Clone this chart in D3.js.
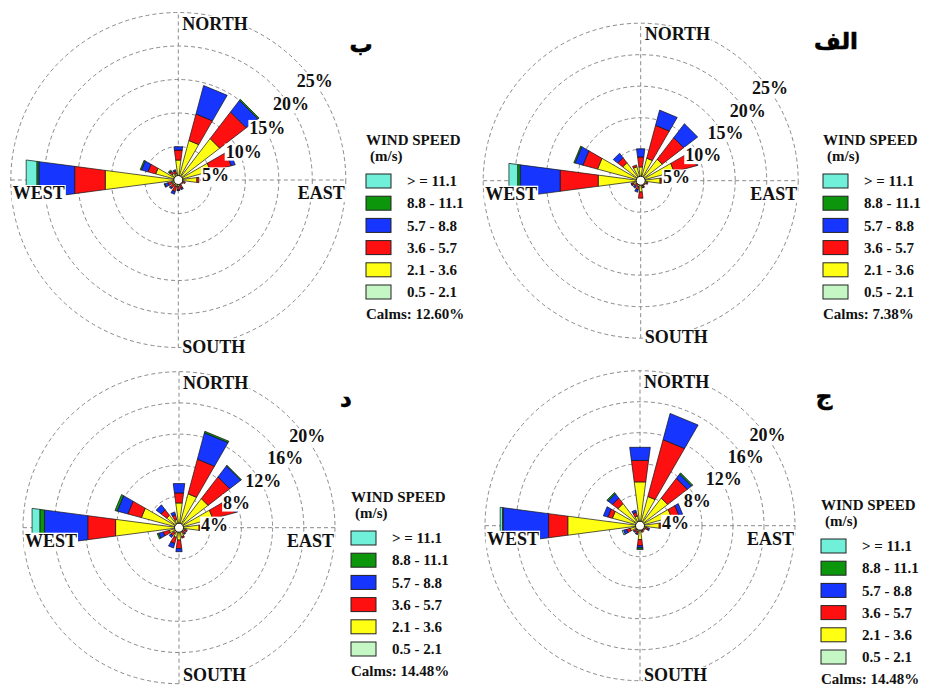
<!DOCTYPE html>
<html><head><meta charset="utf-8">
<script src="https://cdn.jsdelivr.net/npm/d3@7"></script>
<style>body{margin:0;background:#fff} svg{display:block}</style>
</head><body>
<svg id="chart" width="925" height="688"></svg>
<script>
// ---------- DATA ----------
const directions = ["N","NNE","NE","ENE","E","ESE","SE","SSE","S","SSW","SW","WSW","W","WNW","NW","NNW"];
const speedClasses = ["0.5 - 2.1","2.1 - 3.6","3.6 - 5.7","5.7 - 8.8","8.8 - 11.1","> = 11.1"];
const ticksTop = [5, 10, 15, 20, 25];
const ticksBottom = [4, 8, 12, 16, 20];
const compassLabels = ["NORTH","EAST","SOUTH","WEST"];
const panelLetters = ["الف","ب","ج","د"];
const calmsValues = ["7.38", "12.60", "14.48", "14.48"];

// frequency (%) per direction (rows N..NNW) and speed class (cols 0.5-2.1 ... >=11.1)
const freqAlef = [
  [0.3,1.9,1.6,1.3,0,0],[0.3,3.4,5.4,2.5,0,0],[0.3,4.0,4.3,2.8,0,0],[0.3,5.2,3.7,0.2,0,0],
  [0.3,2.8,0.2,0,0,0],[0.2,0.8,0.2,0,0,0],[0.2,0.5,0.2,0,0,0],[0.2,0.6,0.3,0.1,0,0],
  [0.3,1.5,1.0,0,0,0],[0.2,0.8,0.5,0.4,0,0],[0.2,0.6,0.4,0.3,0,0],[0.2,1.0,0.3,0.1,0,0],
  [0.3,6.5,6.1,6.4,0.4,1.4],[0.3,6.8,2.4,1.3,0.2,0],[0.3,3.3,1.0,0.9,0,0],[0.3,2.0,0.3,0,0,0]
];
const freqBe = [
  [0.3,2.7,1.5,0.5,0,0],[0.3,5.8,4.1,4.4,0,0],[0.3,7.5,5.0,2.2,0.2,0],[0.3,4.7,3.2,0.6,0,0],
  [0.3,2.5,0.3,0,0,0],[0.2,0.5,0.4,0,0,0],[0.2,0.4,0.2,0,0,0],[0.2,0.6,0.5,0.2,0,0],
  [0.2,0.8,0.5,0.1,0,0],[0.2,0.8,0.8,0.4,0,0],[0.2,0.7,0.6,0.2,0,0],[0.2,0.8,0.6,0.5,0.1,0],
  [0.3,10.7,4.6,5.4,0.3,1.6],[0.3,3.2,1.2,1.0,0.2,0],[0.2,1.0,0.4,0.1,0.2,0],[0.2,0.8,0.4,0.2,0,0]
];
const freqJim = [
  [0.3,5.4,2.8,1.7,0,0],[0.3,3.6,7.6,3.5,0,0],[0.3,4.2,3.2,0.7,0.2,0],[0.3,3.9,1.0,0.5,0,0],
  [0.3,2.2,0.2,0,0,0],[0.2,0.6,0.3,0.2,0,0],[0.2,0.4,0.2,0,0,0],[0.2,0.5,0.2,0,0,0],
  [0.3,1.5,0.8,0.3,0.2,0],[0.2,0.6,0.3,0.1,0,0],[0.2,0.5,0.3,0.1,0,0],[0.3,1.0,0.5,0.4,0,0.2],
  [0.3,9.1,2.5,5.9,0.1,0.3],[0.3,3.4,0.6,0.6,0,0],[0.3,3.3,0.9,0.7,0.2,0],[0.3,1.0,0.5,0.3,0,0]
];
const freqDal = [
  [0.3,2.9,1.3,1.2,0,0],[0.3,4.2,4.6,3.5,0.2,0],[0.3,4.4,3.5,1.8,0.1,0],[0.3,4.2,2.9,0.4,0,0],
  [0.3,2.3,0.2,0,0,0],[0.2,0.6,0.3,0,0,0],[0.2,0.5,0.3,0.1,0,0],[0.2,1.0,0.2,0,0,0],
  [0.3,1.3,1.1,0.4,0,0],[0.3,1.0,0.8,0.6,0,0],[0.2,0.6,0.5,0.3,0,0],[0.3,1.0,0.8,0.6,0.2,0],
  [0.3,7.9,3.6,5.6,0.6,1.0],[0.3,4.7,1.8,1.4,0.3,0],[0.3,1.7,0.9,0.8,0,0],[0.3,0.8,0.6,0.4,0,0]
];

// ---------- STYLE / LAYOUT ----------
const classColors = ["#c4f7c4","#ffff14","#ff1010","#1636ff","#0c960c","#70f0d8"];
const serif = "'Liberation Serif','Times New Roman',serif";

const panels = [
  {freq: freqAlef, ticks: ticksTop,    letter: 0, calm: 0, cx: 640.7, cy: 180.7, R: 157.5,
   clip: [462, 0, 463, 345], letterPos: [836, 42], lx: 823, ly: 140},
  {freq: freqBe,   ticks: ticksTop,    letter: 1, calm: 1, cx: 178.3, cy: 180, R: 167.5,
   clip: [0, 0, 462, 353], letterPos: [361, 45], lx: 366, ly: 140},
  {freq: freqJim,  ticks: ticksBottom, letter: 2, calm: 2, cx: 640, cy: 525.7, R: 155,
   clip: [462, 355, 463, 333], letterPos: [824, 397], lx: 821, ly: 505},
  {freq: freqDal,  ticks: ticksBottom, letter: 3, calm: 3, cx: 179, cy: 527.7, R: 156,
   clip: [0, 355, 462, 333], letterPos: [346, 400], lx: 351, ly: 497}
];

const svg = d3.select("#chart");
const defs = svg.append("defs");
const halfW = 7.5 * Math.PI / 180;
const stack = d3.stack().keys(d3.range(speedClasses.length));

function labelWithBg(g, x, y, text, anchor) {
  const t = g.append("text").attr("x", x).attr("y", y).text(text)
    .attr("text-anchor", anchor).attr("font-family", serif).attr("font-weight", "bold")
    .attr("font-size", 18).attr("fill", "#111");
  const bb = t.node().getBBox();
  g.insert("rect", function(){ return t.node(); })
    .attr("x", bb.x - 1).attr("y", bb.y + 2).attr("width", bb.width + 2).attr("height", bb.height - 3)
    .attr("fill", "#fff");
  return t;
}

panels.forEach((p, pi) => {
  defs.append("clipPath").attr("id", "clip" + pi).append("rect")
    .attr("x", p.clip[0]).attr("y", p.clip[1]).attr("width", p.clip[2]).attr("height", p.clip[3]);
  const root = svg.append("g").attr("clip-path", `url(#clip${pi})`);
  const g = root.append("g").attr("transform", `translate(${p.cx},${p.cy})`);
  const maxT = d3.max(p.ticks);
  const r = d3.scaleLinear().domain([0, maxT]).range([0, p.R]);
  const ang = d3.scaleBand().domain(directions).range([0, 2 * Math.PI]).align(0);

  // rings
  g.selectAll("circle.ring").data(p.ticks).join("circle").attr("class", "ring")
    .attr("r", d => r(d)).attr("fill", "none").attr("stroke", "#8a8a8a")
    .attr("stroke-width", 1).attr("stroke-dasharray", "4,3");
  // axes
  [[0, -1], [1, 0]].forEach(([ux, uy]) => {
    g.append("line").attr("x1", -ux * p.R).attr("y1", -uy * p.R).attr("x2", ux * p.R).attr("y2", uy * p.R)
      .attr("stroke", "#8a8a8a").attr("stroke-width", 1).attr("stroke-dasharray", "4,3");
  });

  // petals
  const series = stack(p.freq);
  const pathFor = (a, r0, r1) => {
    const pts = [d3.pointRadial(a - halfW, r0), d3.pointRadial(a - halfW, r1),
                 d3.pointRadial(a + halfW, r1), d3.pointRadial(a + halfW, r0)];
    return d3.line()(pts) + "Z";
  };
  series.forEach((s, ci) => {
    g.append("g").selectAll("path")
      .data(s.map((d, di) => ({d, di})).filter(o => o.d[1] - o.d[0] > 0))
      .join("path")
      .attr("d", o => pathFor(ang(directions[o.di]), r(o.d[0]), r(o.d[1])))
      .attr("fill", classColors[ci]).attr("stroke", "#111").attr("stroke-width", 0.7)
      .attr("stroke-linejoin", "miter");
  });

  // percent labels
  const c45 = Math.SQRT1_2;
  p.ticks.forEach(t => {
    labelWithBg(g, r(t) * c45, -r(t) * c45 + 25, t + "%", "start");
  });
  // compass labels
  labelWithBg(g, 4, -p.R + 17, compassLabels[0], "start");
  labelWithBg(g, p.R - 1, 19, compassLabels[1], "end");
  labelWithBg(g, 4, Math.min(p.R + 5, 681 - p.cy), compassLabels[2], "start");
  labelWithBg(g, -p.R + 2, 19, compassLabels[3], "start");

  // calm circle
  g.append("circle").attr("r", 4.5).attr("fill", "#fff").attr("stroke", "#111").attr("stroke-width", 1);

  // panel letter
  svg.append("text").attr("x", p.letterPos[0]).attr("y", p.letterPos[1]).attr("dy", "0.3em")
    .attr("text-anchor", "middle").attr("font-family", "'DejaVu Sans',sans-serif")
    .attr("font-weight", "bold").attr("font-size", 23).attr("fill", "#000")
    .attr("stroke", "#000").attr("stroke-width", 0.6)
    .text(panelLetters[p.letter]);

  // legend
  const lg = svg.append("g").attr("transform", `translate(${p.lx},${p.ly})`);
  const ltxt = (x, y, s) => lg.append("text").attr("x", x).attr("y", y).attr("dy", "0.35em")
    .attr("font-family", serif).attr("font-weight", "bold").attr("font-size", 15).attr("fill", "#111").text(s);
  ltxt(0, 0, "WIND SPEED");
  ltxt(4, 16, "(m/s)");
  const rowY = d3.scalePoint().domain(d3.range(speedClasses.length).reverse()).range([41, 152]);
  speedClasses.forEach((name, ci) => {
    lg.append("rect").attr("x", 0).attr("y", rowY(ci) - 7).attr("width", 25).attr("height", 14)
      .attr("fill", classColors[ci]).attr("stroke", "#222").attr("stroke-width", 1);
    ltxt(41, rowY(ci), name);
  });
  ltxt(0, 174, "Calms: " + calmsValues[p.calm] + "%");
});
</script>
</body></html>
